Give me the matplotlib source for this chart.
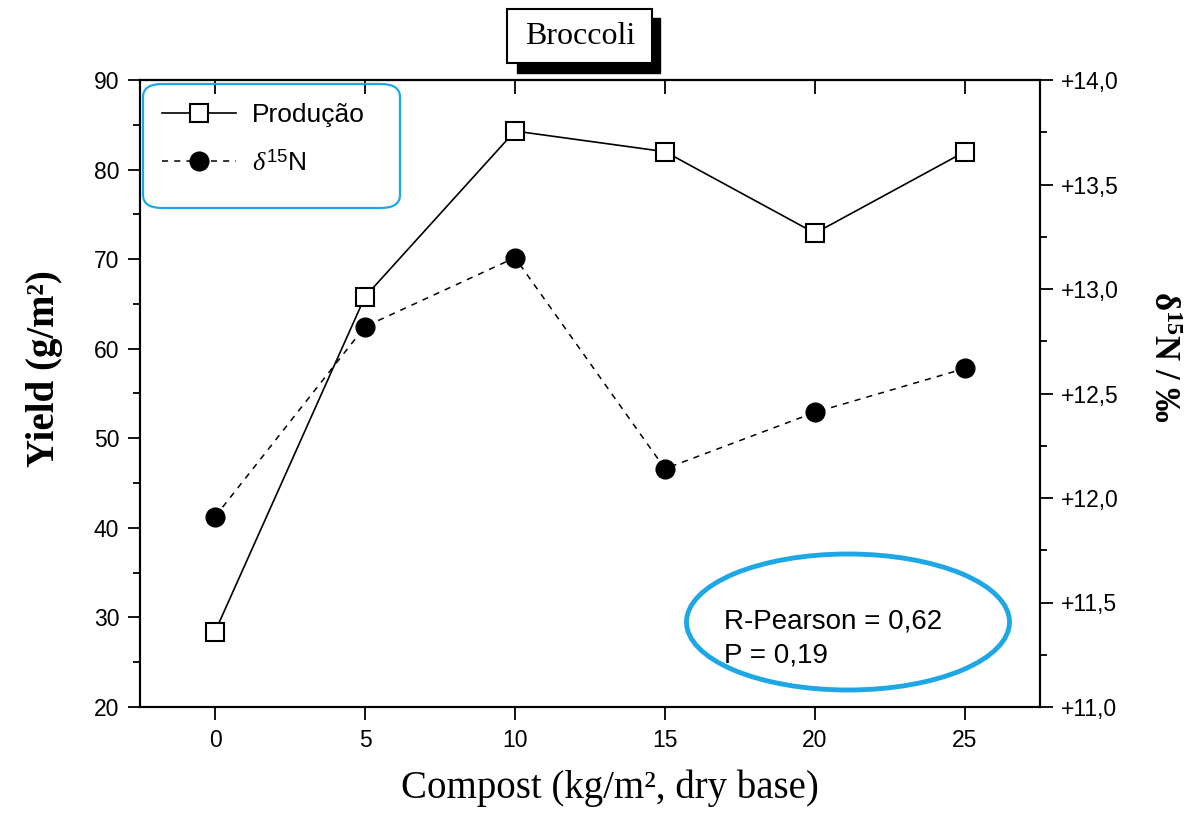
import matplotlib
matplotlib.use("Agg")
import matplotlib.pyplot as plt
from matplotlib.patches import Rectangle, FancyBboxPatch, Ellipse

plt.rcParams['mathtext.fontset'] = 'custom'
plt.rcParams['mathtext.rm'] = 'Liberation Sans'
plt.rcParams['mathtext.it'] = 'Liberation Serif:italic'
plt.rcParams['mathtext.bf'] = 'Liberation Serif:bold'
plt.rcParams['font.family'] = ['Liberation Sans', 'DejaVu Sans']

# ---- data ----
compost = [0, 5, 10, 15, 20, 25]
producao = [28.4, 65.8, 84.3, 82.0, 72.9, 82.0]
delta15n = [11.91, 12.82, 13.15, 12.14, 12.41, 12.62]
x_ticks = [0, 5, 10, 15, 20, 25]
left_ticks = [20, 30, 40, 50, 60, 70, 80, 90]
right_ticks = [11.0, 11.5, 12.0, 12.5, 13.0, 13.5, 14.0]
right_labels = ["+11,0", "+11,5", "+12,0", "+12,5", "+13,0", "+13,5", "+14,0"]
legend_labels = ["Produção", r"$\delta^{15}$N"]
stats_text = ["R-Pearson = 0,62", "P = 0,19"]
title = "Broccoli"

W, H = 1204, 817
fig = plt.figure(figsize=(W / 100, H / 100), dpi=100)
fig.patch.set_facecolor('white')

def fx(px):
    return px / W

def fy(py):
    return 1 - py / H

ax = fig.add_axes([fx(140), fy(707), fx(1040) - fx(140), fy(80) - fy(707)])
ax2 = ax.twinx()

l1, = ax.plot(compost, producao, '-', color='black', lw=1.2, marker='s',
              markersize=13, markerfacecolor='white', markeredgecolor='black',
              markeredgewidth=1.5, zorder=3)
l2, = ax2.plot(compost, delta15n, linestyle=(0, (4, 4)), color='black', lw=1.1,
               marker='o', markersize=13.5, markerfacecolor='black',
               markeredgecolor='black', zorder=3)

ax.set_xlim(-2.5, 27.5)
ax.set_ylim(20, 90)
ax2.set_ylim(11.0, 14.0)

ax.set_xticks(x_ticks)
ax.set_yticks(left_ticks)
ax.set_yticks([25, 35, 45, 55, 65, 75, 85], minor=True)
ax2.set_yticks(right_ticks)
ax2.set_yticklabels(right_labels)
ax2.set_yticks([11.25, 11.75, 12.25, 12.75, 13.25, 13.75], minor=True)

for a in (ax, ax2):
    for s in a.spines.values():
        s.set_linewidth(1.5)

ax.tick_params(axis='x', which='major', direction='out', length=9, width=1.3,
               labelsize=16.5, pad=7, top=False)
ax.tick_params(axis='y', which='major', direction='out', length=9, width=1.3,
               labelsize=16.5, pad=6)
ax.tick_params(axis='y', which='minor', direction='out', length=5, width=1.3)
ax2.tick_params(axis='y', which='major', direction='out', length=9, width=1.3,
                labelsize=16.5, pad=6)
ax2.tick_params(axis='y', which='minor', direction='out', length=5, width=1.3)

# top ticks inward
secx = ax.secondary_xaxis('top')
secx.set_xticks(x_ticks)
secx.tick_params(direction='in', length=10, width=1.3, labeltop=False)
secx.spines['top'].set_linewidth(1.5)

ax.set_xlabel("Compost (kg/m², dry base)", family='Liberation Serif', fontsize=28)
ax.xaxis.set_label_coords(0.522, -0.10)
ax.set_ylabel("Yield (g/m²)", family='Liberation Serif', fontsize=28, fontweight='bold')
ax.yaxis.set_label_coords(-0.085, 0.54)

fig.text(fx(1163), fy(357), r"δ$^{\mathbf{15}}$N / ‰", family='Liberation Serif',
         fontsize=25, fontweight='bold', rotation=-90, ha='center', va='center')

# legend
leg = ax.legend([l1, l2], legend_labels, loc='upper left',
                bbox_to_anchor=(fx(162), fy(103)), bbox_transform=fig.transFigure,
                frameon=False, fontsize=19, handlelength=2.8, handletextpad=0.6,
                labelspacing=0.85, borderpad=0, borderaxespad=0, markerscale=1.0)
legbox = FancyBboxPatch((fx(143), fy(208)), fx(400) - fx(143), fy(84) - fy(208),
                        boxstyle="round,pad=0,rounding_size=0.016",
                        transform=fig.transFigure, facecolor='none',
                        edgecolor='#1ea7e6', linewidth=1.6, zorder=5)
fig.patches.append(legbox)

# stats ellipse
ell = Ellipse((fx(848), fy(622)), fx(323), 136 / H, transform=fig.transFigure,
              facecolor='none', edgecolor='#1ea7e6', linewidth=3.5, zorder=5)
fig.patches.append(ell)
fig.text(fx(724), fy(622), stats_text[0], fontsize=20, ha='left', va='center')
fig.text(fx(724), fy(656), stats_text[1], fontsize=20, ha='left', va='center')

# title box with shadow
fig.patches.append(Rectangle((fx(517), fy(73)), fx(660) - fx(517), fy(18) - fy(73),
                             transform=fig.transFigure, facecolor='black',
                             edgecolor='black', zorder=1))
fig.patches.append(Rectangle((fx(507), fy(63)), fx(652) - fx(507), fy(9) - fy(63),
                             transform=fig.transFigure, facecolor='white',
                             edgecolor='black', linewidth=1.5, zorder=2))
fig.text(fx(580), fy(37), title, family='Liberation Serif', fontsize=23,
         ha='center', va='center', zorder=3)

fig.savefig("out.png", dpi=100, facecolor='white')
